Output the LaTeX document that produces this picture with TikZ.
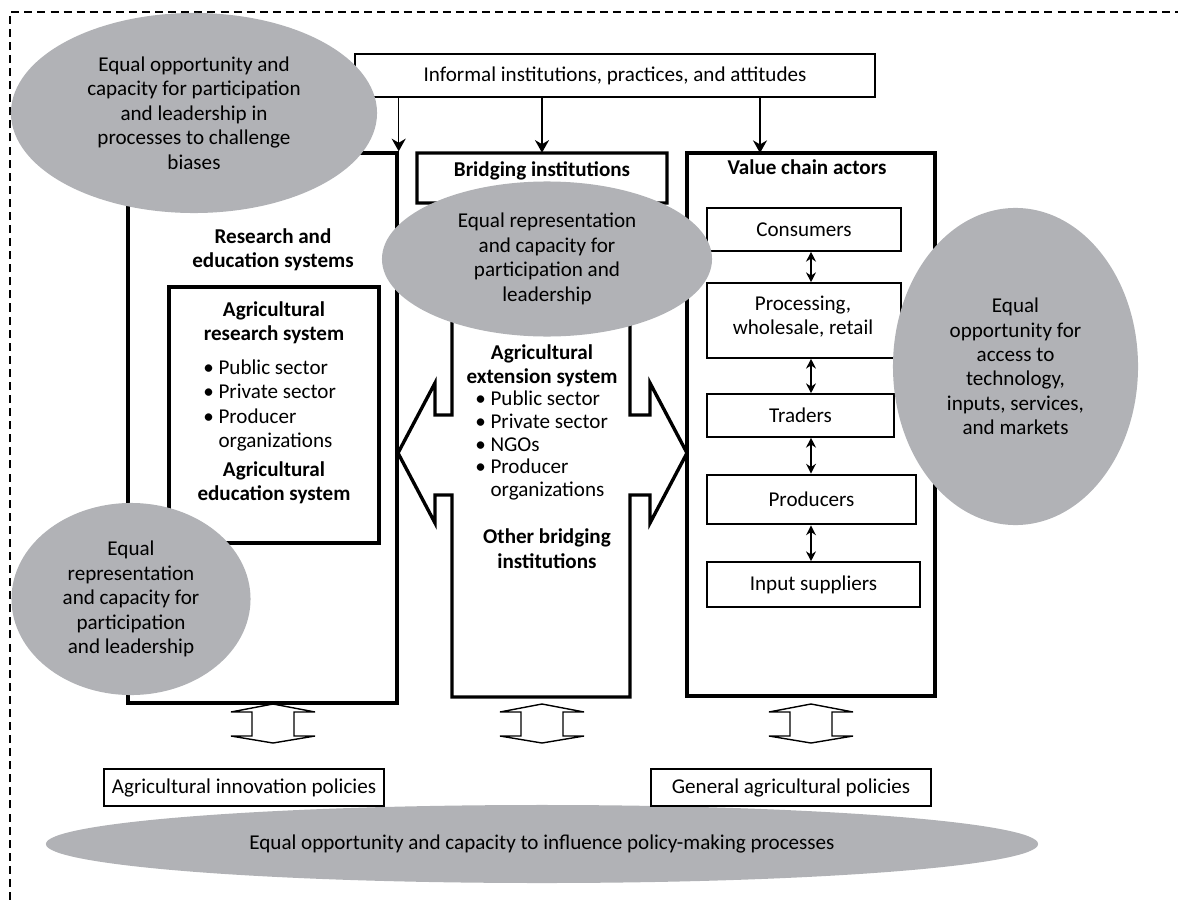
\documentclass[tikz,border=0pt]{standalone}
\usepackage{fontspec}
\setmainfont{Carlito}
\usepackage{tikz}
\usetikzlibrary{arrows.meta,fit,shapes.geometric}
\definecolor{ovalgrey}{RGB}{177,178,182}
\newcommand{\diagsize}{\fontsize{15}{17.4}\selectfont}
\tikzset{
  txt/.style={font=\diagsize, inner sep=0pt, align=center},
  heading/.style={txt, font=\diagsize\bfseries},
  bullets/.style={txt, align=left, anchor=west},
  bigbox/.style={txt, draw, line width=2.4pt},
  smallbox/.style={txt, draw, line width=1.1pt},
  oval/.style={txt, ellipse, fill=ovalgrey},
  twoway/.style={draw, line width=1pt, line join=miter},
  feed/.style={-{Stealth[length=9pt,width=10pt]}, line width=1.1pt},
  link/.style={{Stealth[length=7pt,width=7pt]}-{Stealth[length=7pt,width=7pt]}, line width=1.1pt}
}
\begin{document}
\begin{tikzpicture}[x=0.025cm, y=-0.025cm]
          \useasboundingbox (0,0) rectangle (1178,900);
          \draw[line width=1pt, dash pattern=on 5.7pt off 3.6pt] (10,900) -- (10,12) -- (1178,12);

          \node[smallbox, minimum width=13cm, minimum height=1.075cm] (Informal) at (615,75.5) {Informal institutions, practices, and attitudes};

          \node[bigbox, fit={(128,153) (397,703)}] (Research) {};
          \node[heading] (ResearchTitle) at (273,249.5) {Research and\\education systems};
          \node[bigbox, fit={(169,287) (379,543)}] (ResearchSystem) {};
          \node[heading] (ResearchHead) at (274,322.5) {Agricultural\\research system};
          \node[bullets] (ResearchList) at (203,405.5) {• Public sector\\• Private sector\\• Producer\\\hphantom{• }organizations};
          \node[heading] (EducationHead) at (274,482.5) {Agricultural\\education system};

          \node[fit={(417,153) (667,203)}, inner sep=0pt] (Bridging) {};
          \draw[line width=2.4pt] (417,153) -- (667,153) -- (667,203) -- (630,203) -- (630,415)
            -- (650,415) -- (650,383) -- (687,453) -- (650,523) -- (650,495) -- (630,495)
            -- (630,697) -- (452,697) -- (452,495) -- (435,495) -- (435,523) -- (398,453)
            -- (435,383) -- (435,415) -- (452,415) -- (452,203) -- (417,203) -- cycle;
          \node[heading] (BridgingTitle) at (542,171) {Bridging institutions};
          \node[heading] (ExtensionHead) at (542,365.5) {Agricultural\\extension system};
          \node[bullets, font=\fontsize{15}{16.2}\selectfont] (ExtensionList) at (475,445.5) {• Public sector\\• Private sector\\• NGOs\\• Producer\\\hphantom{• }organizations};
          \node[heading] (OtherBridging) at (547,548.5) {Other bridging\\institutions};

          \node[bigbox, fit={(687,153) (935,696)}] (ValueChain) {};
          \node[heading] (ValueChainTitle) at (807,167) {Value chain actors};
          \node[smallbox, minimum width=4.85cm, minimum height=1.075cm] (Consumers) at (804,229.5) {Consumers};
          \node[smallbox, fit={(707,283) (901,358)}] (Processing) {};
          \node[txt] (ProcessingText) at (803,316.5) {Processing,\\wholesale, retail};
          \node[smallbox, minimum width=4.675cm, minimum height=1.075cm] (Traders) at (800.5,415.5) {Traders};
          \node[bigbox, line width=1.9pt, minimum width=5.225cm, minimum height=1.225cm] (Producers) at (811.5,499.5) {Producers};
          \node[smallbox, minimum width=5.325cm, minimum height=1.125cm] (InputSuppliers) at (813.5,584.5) {Input suppliers};

          \coordinate (Spine) at (811,0);
          \draw[link] (Consumers.south -| Spine) to (Processing.north -| Spine);
          \draw[link] (Processing.south -| Spine) to (Traders.north -| Spine);
          \draw[link] (Traders.south -| Spine) to (Producers.north -| Spine);
          \draw[link] (Producers.south -| Spine) to (InputSuppliers.north -| Spine);

          \coordinate (ValueChainIn) at (760,153);
          \draw[feed] (Informal.south -| Research.north east) to (Research.north east);
          \draw[feed] (Informal.south -| Bridging.north) to (Bridging.north);
          \draw[feed] (Informal.south -| ValueChainIn) to (ValueChainIn);

          \node[oval, minimum width=9.15cm, minimum height=5cm] (ChallengeOval) at (194,113) {Equal opportunity and\\capacity for participation\\and leadership in\\processes to challenge\\biases};
          \node[oval, minimum width=8.25cm, minimum height=3.875cm] (BridgingOval) at (547,259) {Equal representation\\and capacity for\\participation and\\leadership};
          \node[oval, minimum width=6.125cm, minimum height=7.925cm] (AccessOval) at (1015.5,366.5) {Equal\\opportunity for\\access to\\technology,\\inputs, services,\\and markets};
          \node[oval, minimum width=5.975cm, minimum height=4.8cm] (ResearchOval) at (131,599) {Equal\\representation\\and capacity for\\participation\\and leadership};
          \node[oval, minimum width=24.8cm, minimum height=1.95cm] (PolicyOval) at (542,844) {Equal opportunity and capacity to influence policy-making processes};

          \foreach \xc in {273,542,811}
            \draw[twoway] (\xc,704) -- (\xc+42,712) -- (\xc+21,712) -- (\xc+21,736) -- (\xc+42,736)
              -- (\xc,743) -- (\xc-42,736) -- (\xc-21,736) -- (\xc-21,712) -- (\xc-42,712) -- cycle;

          \node[smallbox, fill=white, minimum width=7cm, minimum height=0.925cm] (InnovationPolicies) at (244,787.5) {Agricultural innovation policies};
          \node[smallbox, fill=white, minimum width=7cm, minimum height=0.925cm] (GeneralPolicies) at (791,787.5) {General agricultural policies};
        \end{tikzpicture}
\end{document}
